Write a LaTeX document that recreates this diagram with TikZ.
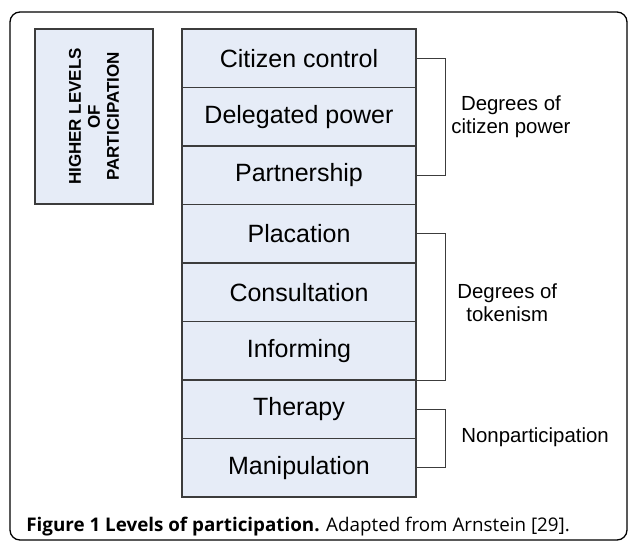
\documentclass[tikz,border=0pt]{standalone}
\usepackage{fontspec}
\setmainfont{Liberation Sans}
\newfontfamily\capfont{Open Sans}
\usepackage{xcolor}
\definecolor{rungfill}{RGB}{230,236,247}
\definecolor{rungline}{RGB}{60,60,60}
\tikzset{
  rung/.style={draw=rungline,fill=rungfill,line width=0.8pt,minimum width=117pt,
    minimum height=29.25pt,inner sep=0pt,font=\fontsize{12.5}{14}\selectfont},
  lbox/.style={draw=rungline,fill=rungfill,line width=0.8pt,rotate=90,minimum width=87.5pt,
    minimum height=59pt,inner sep=0pt,align=center,font=\fontsize{8.5}{9.5}\selectfont\bfseries},
  grp/.style={anchor=west,align=center,inner sep=0pt,font=\fontsize{10.2}{11.5}\selectfont},
  brace/.style={draw=rungline,line width=0.55pt}
}
\begin{document}
\begin{tikzpicture}[x=0.5pt,y=-0.5pt]
\useasboundingbox (0,0) rectangle (629,542);
\draw[line width=0.65pt,rounded corners=5pt](10,12) rectangle (627,540);
\node[lbox] (higher) at (94,116.5) {HIGHER LEVELS\\OF\\PARTICIPATION};
\foreach \n/\t [count=\i] in {cc/Citizen control,dp/Delegated power,ps/Partnership,
  pl/Placation,cs/Consultation,inf/Informing,th/Therapy,mp/Manipulation}
  \node[rung] (\n) at (299,{29+58.5*(\i-0.5)}) {\t};
\draw[brace](cc.east)--++(29,0)|-(ps.east);
\draw[brace](pl.east)--++(29,0)|-(inf.south east);
\draw[brace](th.east)--++(29,0)|-(mp.east);
\node[grp] (power) at (451,117) {Degrees of\\citizen power};
\node[grp] (token) at (457,303) {Degrees of\\tokenism};
\node[grp] (nonpart) at (461,437) {Nonparticipation};
\node[anchor=base west,inner sep=0pt,font=\capfont\fontsize{9.4}{11}\selectfont] (fig) at (26,531)
  {\textbf{Figure 1 Levels of participation.} Adapted from Arnstein [29].};
\end{tikzpicture}
\end{document}
